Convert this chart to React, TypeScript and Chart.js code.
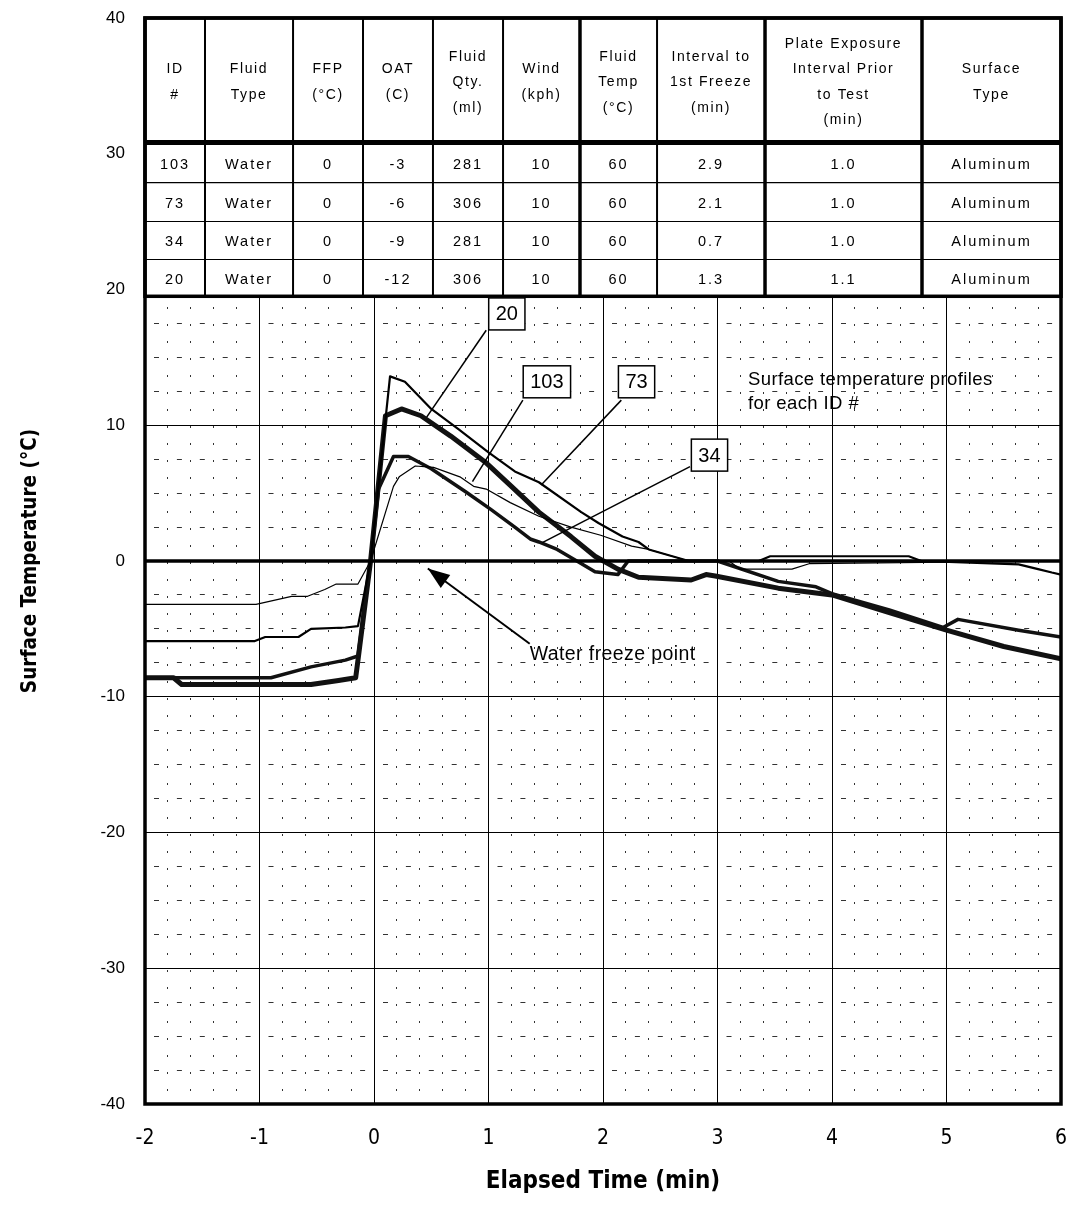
import React, { useEffect, useRef } from 'react';
import { Chart, registerables } from 'chart.js';

Chart.register(...registerables);

// ---------- DATA ----------
// Surface temperature profiles (time in min, temperature in °C)
const t103 = [-2, -1.03, -0.72, -0.58, -0.43, -0.33, -0.14, -0.03, 0.17, 0.22, 0.36, 0.52, 0.75, 0.87, 0.98, 1.19, 1.44, 1.72, 1.98, 2.25, 2.4, 2.75, 3.1, 3.2, 3.65, 3.8, 6.0];
const v103 = [-3.2, -3.2, -2.6, -2.6, -2.1, -1.7, -1.7, 0, 5.5, 6.2, 7.0, 6.9, 6.2, 5.5, 5.3, 4.3, 3.3, 2.5, 1.9, 1.1, 0.85, 0, 0, -0.6, -0.6, -0.2, 0];

const t73 = [-2, -1.04, -0.95, -0.66, -0.55, -0.25, -0.14, -0.03, 0.14, 0.27, 0.5, 0.74, 1.0, 1.23, 1.44, 1.81, 1.96, 2.17, 2.31, 2.4, 2.75, 3.36, 3.46, 4.67, 4.78, 5.63, 5.8, 5.92, 6.0];
const v73 = [-5.9, -5.9, -5.6, -5.6, -5.0, -4.9, -4.8, 0, 13.6, 13.2, 11.2, 9.7, 8.0, 6.6, 5.8, 3.6, 2.8, 1.8, 1.4, 0.85, 0, 0, 0.35, 0.35, 0, -0.25, -0.6, -0.85, -1.0];

const t34 = [-2, -0.9, -0.55, -0.25, -0.14, -0.03, 0.04, 0.17, 0.3, 0.5, 0.8, 1.02, 1.23, 1.37, 1.44, 1.6, 1.79, 1.93, 2.13, 2.22, 3.0, 3.53, 3.86, 4.0, 4.5, 4.97, 5.1, 5.63, 6.0];
const v34 = [-8.6, -8.6, -7.8, -7.3, -7.0, 0, 5.3, 7.7, 7.7, 6.8, 5.1, 3.8, 2.5, 1.6, 1.4, 0.85, -0.1, -0.8, -1.0, 0, 0, -1.5, -1.9, -2.4, -3.6, -4.9, -4.3, -5.1, -5.6];

const t20 = [-2, -1.75, -1.68, -0.55, -0.31, -0.16, -0.14, -0.03, 0.1, 0.24, 0.41, 0.67, 0.97, 1.2, 1.44, 1.72, 1.93, 2.13, 2.31, 2.77, 2.9, 2.98, 3.53, 4.0, 4.5, 5.0, 5.5, 6.0];
const v20 = [-8.6, -8.6, -9.1, -9.1, -8.8, -8.6, -7.3, 0, 10.7, 11.2, 10.7, 9.2, 7.3, 5.5, 3.6, 1.8, 0.35, -0.6, -1.2, -1.4, -1.0, -1.1, -2.0, -2.5, -3.8, -5.1, -6.3, -7.2];

const freezeT = [-2, 6];
const freezeV = [0, 0];

const xTicks = [-2, -1, 0, 1, 2, 3, 4, 5, 6];
const yTicks = [-40, -30, -20, -10, 0, 10, 20, 30, 40];

// Table
const tableHeader = [
  ['ID', '#'],
  ['Fluid', 'Type'],
  ['FFP', '(°C)'],
  ['OAT', '(C)'],
  ['Fluid', 'Qty.', '(ml)'],
  ['Wind', '(kph)'],
  ['Fluid', 'Temp', '(°C)'],
  ['Interval to', '1st Freeze', '(min)'],
  ['Plate Exposure', 'Interval Prior', 'to Test', '(min)'],
  ['Surface', 'Type'],
];
const idNumbers = ['103', '73', '34', '20'];
const fluidTypes = ['Water', 'Water', 'Water', 'Water'];
const ffpValues = ['0', '0', '0', '0'];
const oatValues = ['-3', '-6', '-9', '-12'];
const fluidQty = ['281', '306', '281', '306'];
const windValues = ['10', '10', '10', '10'];
const fluidTemp = ['60', '60', '60', '60'];
const intervalFreeze = ['2.9', '2.1', '0.7', '1.3'];
const plateExposure = ['1.0', '1.0', '1.0', '1.1'];
const surfaceTypes = ['Aluminum', 'Aluminum', 'Aluminum', 'Aluminum'];

// ---------- LAYOUT (positions in axis units) ----------
const tableColEdges = [-2, -1.476, -0.707, -0.096, 0.515, 1.127, 1.799, 2.472, 3.415, 4.786, 6];
const tableThickCols = [6, 8, 9];
const tableRowEdges = [40, 30.83, 27.88, 25.01, 22.21, 19.5];

const calloutLabels = ['20', '103', '73', '34'];
const calloutBox = [[1.16, 18.2], [1.51, 13.2], [2.293, 13.2], [2.93, 7.8]];
const calloutFrom = [[0.98, 17.0], [1.3, 11.85], [2.16, 11.85], [2.76, 6.95]];
const calloutTo = [[0.46, 10.6], [0.86, 5.85], [1.46, 5.6], [1.47, 1.35]];

const SANS = '"Liberation Sans", Arial, Helvetica, sans-serif';
const NARROW = '"Liberation Sans Narrow", "DejaVu Sans Condensed", Arial, sans-serif';

const pts = (ts: number[], vs: number[]) => ts.map((t, i) => ({ x: t, y: vs[i] }));

const overlayPlugin = {
  id: 'overlay',
  afterDatasetsDraw(chart: any) {
    const { ctx, chartArea } = chart;
    const xs = chart.scales.x;
    const ys = chart.scales.y;
    const X = (t: number) => xs.getPixelForValue(t);
    const Y = (v: number) => ys.getPixelForValue(v);

    // ---- table ----
    const left = X(tableColEdges[0]);
    const right = X(tableColEdges[tableColEdges.length - 1]);
    const top = Y(tableRowEdges[0]);
    const bottom = Y(tableRowEdges[tableRowEdges.length - 1]);
    ctx.save();
    ctx.fillStyle = '#fff';
    ctx.fillRect(left, top, right - left, bottom - top);
    ctx.strokeStyle = '#000';
    for (let r = 1; r < tableRowEdges.length - 1; r++) {
      ctx.lineWidth = r === 1 ? 5 : 1.2;
      ctx.beginPath();
      ctx.moveTo(left, Y(tableRowEdges[r]));
      ctx.lineTo(right, Y(tableRowEdges[r]));
      ctx.stroke();
    }
    for (let c = 1; c < tableColEdges.length - 1; c++) {
      ctx.lineWidth = tableThickCols.includes(c) ? 3.5 : 2;
      ctx.beginPath();
      ctx.moveTo(X(tableColEdges[c]), top);
      ctx.lineTo(X(tableColEdges[c]), bottom);
      ctx.stroke();
    }
    ctx.lineWidth = 3.5;
    ctx.strokeRect(left, top, right - left, bottom - top);

    ctx.fillStyle = '#000';
    ctx.textAlign = 'center';
    ctx.textBaseline = 'middle';
    ctx.font = `14px ${SANS}`;
    try { (ctx as any).letterSpacing = '1.6px'; } catch (e) { /* ignore */ }
    const hMid = (Y(tableRowEdges[0]) + Y(tableRowEdges[1])) / 2 + 2;
    const lineH = 25.5;
    tableHeader.forEach((lines, c) => {
      const cx = (X(tableColEdges[c]) + X(tableColEdges[c + 1])) / 2;
      const start = hMid - ((lines.length - 1) * lineH) / 2;
      lines.forEach((ln, i) => ctx.fillText(ln, cx, start + i * lineH));
    });
    const cols = [idNumbers, fluidTypes, ffpValues, oatValues, fluidQty, windValues, fluidTemp, intervalFreeze, plateExposure, surfaceTypes];
    ctx.font = `14.5px ${SANS}`;
    try { (ctx as any).letterSpacing = '2px'; } catch (e) { /* ignore */ }
    for (let r = 0; r < idNumbers.length; r++) {
      const cy = (Y(tableRowEdges[r + 1]) + Y(tableRowEdges[r + 2])) / 2 + 2;
      cols.forEach((col, c) => {
        const cx = (X(tableColEdges[c]) + X(tableColEdges[c + 1])) / 2;
        ctx.fillText(col[r], cx, cy);
      });
    }
    try { (ctx as any).letterSpacing = '0px'; } catch (e) { /* ignore */ }

    // ---- callouts ----
    ctx.font = `20px ${SANS}`;
    ctx.lineWidth = 1.5;
    calloutLabels.forEach((lab, i) => {
      ctx.beginPath();
      ctx.moveTo(X(calloutFrom[i][0]), Y(calloutFrom[i][1]));
      ctx.lineTo(X(calloutTo[i][0]), Y(calloutTo[i][1]));
      ctx.stroke();
      const w = ctx.measureText(lab).width + 14;
      const h = 32;
      const bx = X(calloutBox[i][0]) - w / 2;
      const by = Y(calloutBox[i][1]) - h / 2;
      ctx.fillStyle = '#fff';
      ctx.fillRect(bx, by, w, h);
      ctx.strokeRect(bx, by, w, h);
      ctx.fillStyle = '#000';
      ctx.fillText(lab, bx + w / 2, by + h / 2 + 1);
    });

    // ---- notes ----
    ctx.textAlign = 'left';
    ctx.font = `18.5px ${SANS}`;
    try { (ctx as any).letterSpacing = '0.4px'; } catch (e) { /* ignore */ }
    ctx.fillText('Surface temperature profiles', X(3.266), Y(13.37));
    ctx.fillText('for each ID #', X(3.266), Y(11.6));
    ctx.font = `19.5px ${SANS}`;
    ctx.fillText('Water freeze point', X(1.36), Y(-6.9));
    try { (ctx as any).letterSpacing = '0px'; } catch (e) { /* ignore */ }

    const ax0 = X(1.36), ay0 = Y(-6.1), ax1 = X(0.47), ay1 = Y(-0.55);
    ctx.lineWidth = 2;
    ctx.beginPath();
    ctx.moveTo(ax0, ay0);
    ctx.lineTo(ax1, ay1);
    ctx.stroke();
    const ang = Math.atan2(ay1 - ay0, ax1 - ax0);
    const L = 22, Wd = 8;
    ctx.beginPath();
    ctx.moveTo(ax1, ay1);
    ctx.lineTo(ax1 - L * Math.cos(ang) + Wd * Math.sin(ang), ay1 - L * Math.sin(ang) - Wd * Math.cos(ang));
    ctx.lineTo(ax1 - L * Math.cos(ang) - Wd * Math.sin(ang), ay1 - L * Math.sin(ang) + Wd * Math.cos(ang));
    ctx.closePath();
    ctx.fill();

    ctx.lineWidth = 3.5;
    ctx.strokeRect(chartArea.left, chartArea.top, chartArea.right - chartArea.left, chartArea.bottom - chartArea.top);
    ctx.restore();
  },
};

const isMult = (v: number, m: number) => Math.abs(v / m - Math.round(v / m)) < 1e-6;
const noPad = (s: any) => { s.paddingLeft = 0; s.paddingRight = 0; s.paddingTop = 0; s.paddingBottom = 0; };

export default function App() {
  const ref = useRef<HTMLCanvasElement>(null);
  useEffect(() => {
    document.body.style.margin = '0';
    const chart = new Chart(ref.current as HTMLCanvasElement, {
      type: 'line',
      data: {
        datasets: [
          { label: 'Water freeze point', data: pts(freezeT, freezeV), borderColor: '#000', borderWidth: 3.5, pointRadius: 0 },
          { label: '103', data: pts(t103, v103), borderColor: '#000', borderWidth: 1.2, pointRadius: 0 },
          { label: '73', data: pts(t73, v73), borderColor: '#000', borderWidth: 2.2, pointRadius: 0 },
          { label: '34', data: pts(t34, v34), borderColor: '#111', borderWidth: 3.5, pointRadius: 0 },
          { label: '20', data: pts(t20, v20), borderColor: '#111', borderWidth: 5, pointRadius: 0 },
        ],
      },
      options: {
        animation: false,
        responsive: false,
        devicePixelRatio: 1,
        layout: { padding: { top: 18, right: 9, left: 0, bottom: 0 } },
        plugins: { legend: { display: false }, tooltip: { enabled: false } },
        elements: { line: { tension: 0, borderJoinStyle: 'round', borderCapStyle: 'round' } },
        scales: {
          x: {
            type: 'linear', min: -2, max: 6, position: 'bottom',
            afterBuildTicks: (s: any) => { s.ticks = xTicks.map((v) => ({ value: v })); },
            ticks: { color: '#000', font: { family: NARROW, size: 21 }, padding: 22, callback: (v: any) => String(v) },
            grid: { color: '#000', lineWidth: 1, drawTicks: false },
            border: { display: false },
            title: { display: true, text: 'Elapsed Time (min)', color: '#000', font: { family: NARROW, size: 24, weight: 'bold' }, padding: { top: 0, bottom: 11 } },
            afterFit: (s: any) => { s.height = 103; noPad(s); },
          },
          y: {
            type: 'linear', min: -40, max: 40, position: 'left',
            afterBuildTicks: (s: any) => { s.ticks = yTicks.map((v) => ({ value: v })); },
            ticks: { color: '#000', font: { family: SANS, size: 17 }, padding: 20, callback: (v: any) => String(v) },
            grid: { color: '#000', lineWidth: 1, drawTicks: false },
            border: { display: false },
            title: { display: true, text: 'Surface Temperature (°C)', color: '#000', font: { family: NARROW, size: 20.5, weight: 'bold' }, padding: { top: 18, bottom: 0 } },
            afterFit: (s: any) => { s.width = 145; noPad(s); },
          },
          xMinor: {
            type: 'linear', min: -2, max: 6, position: 'bottom',
            ticks: { display: false, stepSize: 0.2 },
            grid: { drawTicks: false, lineWidth: 1, color: (c: any) => (isMult(c.tick.value, 1) ? 'rgba(0,0,0,0)' : '#333') },
            border: { display: false, dash: [2, 15] },
            afterFit: (s: any) => { s.height = 0; noPad(s); },
          },
          yMinor: {
            type: 'linear', min: -40, max: 40, position: 'left',
            ticks: { display: false, stepSize: 2.5 },
            grid: { drawTicks: false, lineWidth: 1, color: (c: any) => (isMult(c.tick.value, 10) ? 'rgba(0,0,0,0)' : '#333') },
            border: { display: false, dash: [5, 17.9], dashOffset: 13.9 },
            afterFit: (s: any) => { s.width = 0; noPad(s); },
          },
        },
      },
      plugins: [overlayPlugin],
    } as any);
    return () => chart.destroy();
  }, []);
  return (
    <div style={{ width: 1070, height: 1207, background: '#fff' }}>
      <canvas ref={ref} width={1070} height={1207} style={{ display: 'block' }} />
    </div>
  );
}
